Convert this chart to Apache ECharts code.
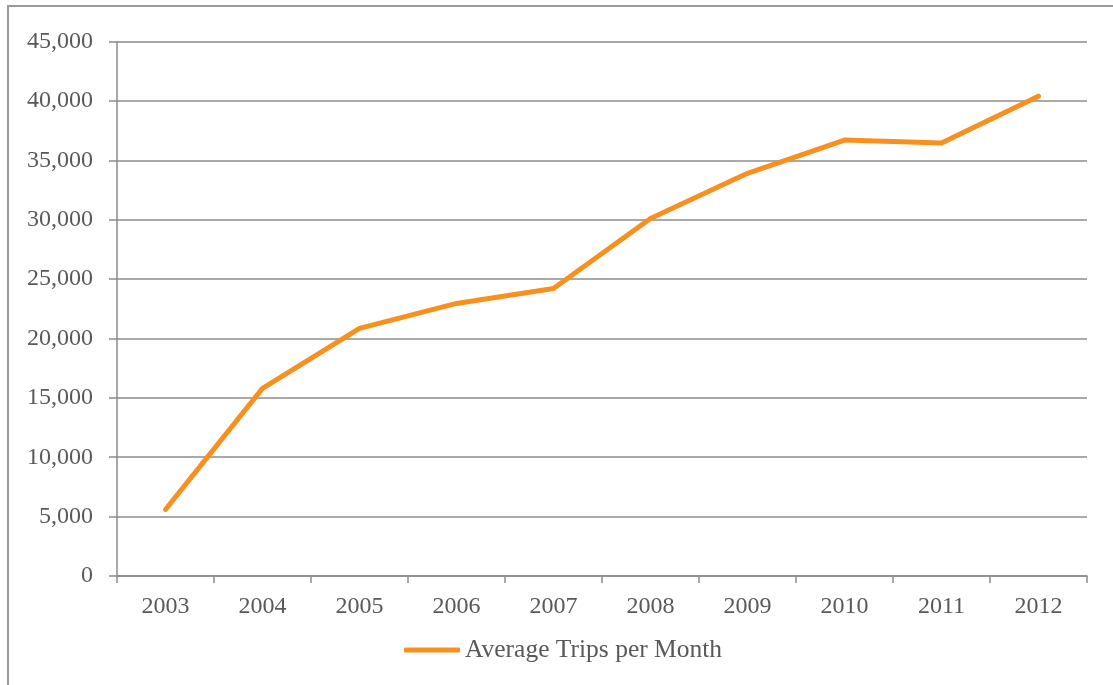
<!DOCTYPE html>
<html>
<head>
<meta charset="utf-8">
<script src="https://cdn.jsdelivr.net/npm/echarts@6/dist/echarts.min.js"></script>
<style>
  html, body { margin: 0; padding: 0; background: #fff; }
  #chart { width: 1113px; height: 685px; }
</style>
</head>
<body>
<div id="chart"></div>
<script>
// Average monthly trips, 2003–2012
const years = ['2003', '2004', '2005', '2006', '2007', '2008', '2009', '2010', '2011', '2012'];
const avgTrips = [5600, 15800, 20850, 22950, 24200, 30100, 33900, 36700, 36450, 40400];
const seriesName = 'Average Trips per Month';

const axisGray = '#8c8c8c';
const textGray = '#595959';
const font = '"Liberation Serif", "DejaVu Serif", serif';

const chart = echarts.init(document.getElementById('chart'));
chart.setOption({
  animation: false,
  backgroundColor: '#fff',
  graphic: [{
    type: 'rect',
    shape: { x: 8, y: 6, width: 1300, height: 900 },
    style: { fill: 'none', stroke: '#9a9a9a', lineWidth: 2 },
    silent: true
  }],
  grid: { left: 117, right: 26, top: 41.5, bottom: 109, containLabel: false },
  legend: {
    left: 404,
    top: 637,
    padding: 0,
    icon: 'roundRect',
    itemWidth: 56,
    itemHeight: 5,
    textStyle: { fontFamily: font, fontSize: 25.5, color: textGray },
    data: [seriesName]
  },
  xAxis: {
    type: 'category',
    data: years,
    boundaryGap: true,
    axisLine: { show: true, lineStyle: { color: axisGray, width: 1.5 } },
    axisTick: { show: true, length: 7, alignWithLabel: false, lineStyle: { color: axisGray, width: 1.5 } },
    axisLabel: { margin: 19, fontFamily: font, fontSize: 24, color: textGray },
    splitLine: { show: false }
  },
  yAxis: {
    type: 'value',
    min: 0,
    max: 45000,
    interval: 5000,
    axisLine: { show: true, lineStyle: { color: axisGray, width: 1.5 } },
    axisTick: { show: true, length: 8, lineStyle: { color: axisGray, width: 1.5 } },
    axisLabel: {
      margin: 24,
      fontFamily: font,
      fontSize: 24,
      color: textGray,
      formatter: v => v.toLocaleString('en-US')
    },
    splitLine: { show: true, lineStyle: { color: axisGray, width: 1.5 } }
  },
  series: [{
    name: seriesName,
    type: 'line',
    data: avgTrips,
    symbol: 'none',
    color: '#f7901e',
    lineStyle: { width: 5, color: '#f7901e', cap: 'round', join: 'round' }
  }]
});
</script>
</body>
</html>
